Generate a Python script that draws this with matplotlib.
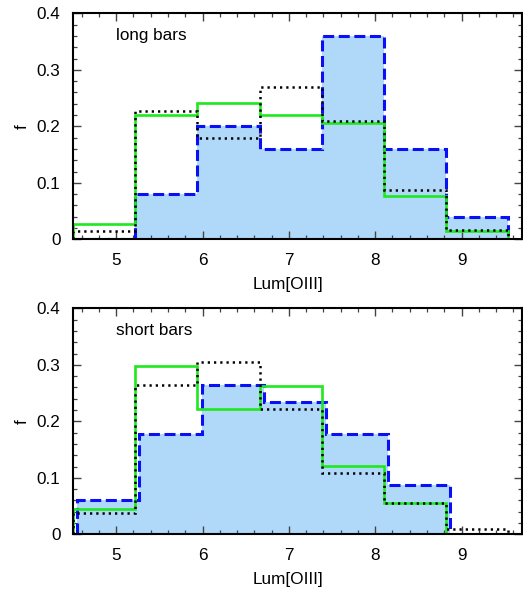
import numpy as np
import matplotlib
matplotlib.use('Agg')
import matplotlib.pyplot as plt
from matplotlib.ticker import MultipleLocator, FixedFormatter, FixedLocator

plt.rcParams['font.family'] = ['Liberation Sans', 'DejaVu Sans']

# bin edges in Lum[OIII]
edges = [4.5, 5.22, 5.94, 6.66, 7.38, 8.10, 8.82, 9.54, 10.26]
edges_blue_long = [4.5, 5.22, 5.94, 6.66, 7.38, 8.10, 8.82, 9.54]
edges_blue_short = [4.55, 5.27, 5.99, 6.71, 7.43, 8.15, 8.87]

# long bars
long_blue = [0.0, 0.08, 0.20, 0.16, 0.36, 0.16, 0.04]
long_green = [0.027, 0.22, 0.242, 0.22, 0.206, 0.077, 0.015, 0.0]
long_black = [0.014, 0.227, 0.18, 0.27, 0.21, 0.087, 0.017, 0.0]

# short bars
short_blue = [0.06, 0.177, 0.265, 0.235, 0.177, 0.088]
short_green = [0.045, 0.298, 0.221, 0.262, 0.121, 0.055, 0.0, 0.0]
short_black = [0.038, 0.264, 0.305, 0.221, 0.109, 0.056, 0.01, 0.0]

yticks = [0, 0.1, 0.2, 0.3, 0.4]
ytick_labels = ['0', '0.1', '0.2', '0.3', '0.4']
xticks = [5, 6, 7, 8, 9]

panels = [
    ('long bars', edges_blue_long, long_blue, long_green, long_black, 0.5944),
    ('short bars', edges_blue_short, short_blue, short_green, short_black, 0.0944),
]

fs = 12.3
fig = plt.figure(figsize=(5.23, 5.90), dpi=100)

for title, eb, blue, green, black, bottom in panels:
    ax = fig.add_axes([0.1396, bottom, 0.8585, 0.383])
    ax.stairs(blue, eb, fill=True, color='#b0d8f8', lw=0, zorder=1)
    ax.stairs(blue, eb, color='#0a10f5', lw=2.2, ls=(0, (3.6, 1.5)), zorder=2)
    ax.stairs(green, edges, color='#1ee81e', lw=1.9, zorder=3)
    ax.stairs(black, edges, color='black', lw=1.8, ls=(0, (0.9, 1.6)), zorder=4)

    ax.set_xlim(4.5, 9.7)
    ax.set_ylim(0, 0.4)
    ax.xaxis.set_major_locator(FixedLocator(xticks))
    ax.xaxis.set_minor_locator(MultipleLocator(0.2))
    ax.yaxis.set_major_locator(FixedLocator(yticks))
    ax.yaxis.set_major_formatter(FixedFormatter(ytick_labels))
    ax.yaxis.set_minor_locator(MultipleLocator(0.02))
    ax.tick_params(which='both', direction='in', top=True, right=True,
                   color='#444444', labelsize=fs)
    ax.tick_params(which='major', length=6, width=1.0, pad=9)
    ax.tick_params(axis='x', which='major', pad=10)
    ax.tick_params(which='minor', length=3, width=0.9)
    for s in ax.spines.values():
        s.set_linewidth(1.5)
        s.set_zorder(5)

    ax.set_xlabel('Lum[OIII]', fontsize=fs)
    ax.xaxis.set_label_coords(0.479, -0.165)
    ax.set_ylabel('f', fontsize=fs)
    ax.yaxis.set_label_coords(-0.097, 0.5)
    ax.text(0.096, 0.9, title, transform=ax.transAxes, fontsize=fs,
            va='center', ha='left')

fig.savefig('out.png', dpi=100)
